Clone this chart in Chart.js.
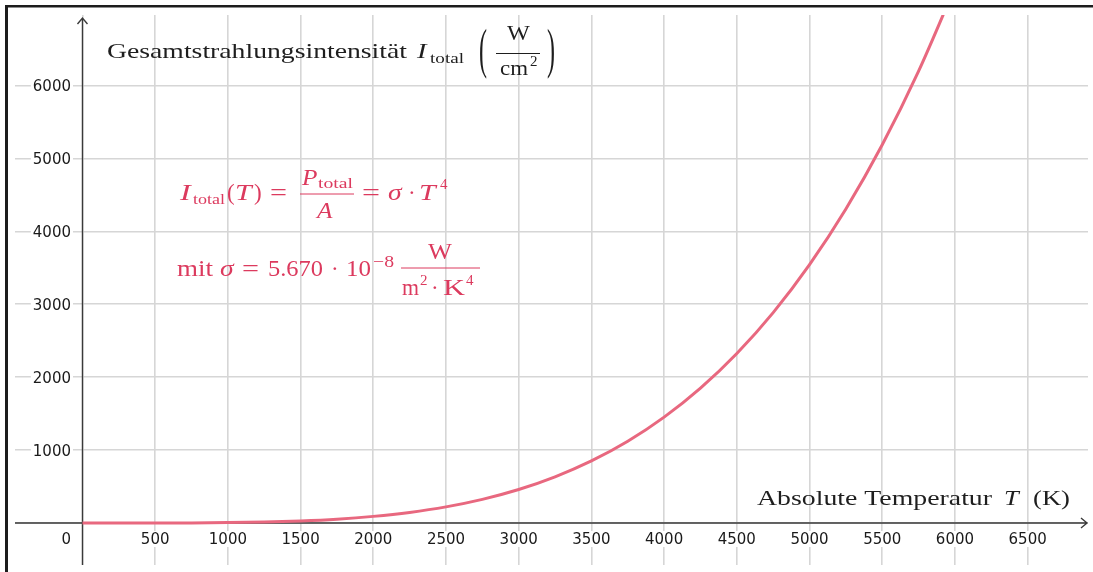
<!DOCTYPE html>
<html><head><meta charset="utf-8">
<script src="https://cdn.jsdelivr.net/npm/chart.js@4.4.1/dist/chart.umd.min.js"></script>
<style>html,body{margin:0;padding:0;background:#fff;overflow:hidden}canvas{display:block}</style>
</head><body>
<canvas id="c" width="1093" height="572"></canvas>
<script>
// ---- data ----
const temperatures = [0,250,500,750,1000,1250,1500,1750,2000,2250,2500,2750,3000,3250,3500,3750,4000,4250,4500,4750,5000,5250,5500,5750,6000];
const intensities  = [0,0,0.4,1.8,5.7,14,29,53,91,145,221,324,459,633,851,1121,1452,1850,2325,2886,3544,4307,5188,6198,7348];
const xTickValues = [0,500,1000,1500,2000,2500,3000,3500,4000,4500,5000,5500,6000,6500];
const yTickValues = [0,1000,2000,3000,4000,5000,6000];
const xTitle = ['Absolute Temperatur', 'T', '(K)'];
const yTitle = ['Gesamtstrahlungsintensität', 'I', 'total', 'W', 'cm', '2'];

const SERIF = '"Liberation Serif", "Times New Roman", serif';
const SANS = '"DejaVu Sans", sans-serif';
const RED = '#dc3a5e';
const INK = '#1e1e1e';

function put(ctx, s, x, y, size, opt = {}) {
  ctx.save();
  ctx.font = (opt.italic ? 'italic ' : '') + size + 'px ' + (opt.family || SERIF);
  ctx.fillStyle = opt.color || INK;
  ctx.textBaseline = 'alphabetic';
  ctx.textAlign = opt.align || 'left';
  let sx = opt.sx || 1;
  if (opt.width) sx = opt.width / ctx.measureText(s).width;
  ctx.translate(x, y);
  ctx.scale(sx, opt.sy || 1);
  ctx.fillText(s, 0, 0);
  ctx.restore();
}
function hline(ctx, x1, x2, y, color, lw) {
  ctx.save(); ctx.strokeStyle = color; ctx.lineWidth = lw || 1;
  ctx.beginPath(); ctx.moveTo(x1, y); ctx.lineTo(x2, y); ctx.stroke(); ctx.restore();
}

const decor = {
  id: 'decor',
  beforeDraw(chart) {
    const ctx = chart.ctx;
    ctx.save(); ctx.fillStyle = '#fff'; ctx.fillRect(0, 0, chart.width, chart.height); ctx.restore();
  },
  beforeDatasetsDraw(chart) {
    const ctx = chart.ctx, xs = chart.scales.x, ys = chart.scales.y, a = chart.chartArea;
    const x0 = xs.getPixelForValue(0), y0 = ys.getPixelForValue(0);
    ctx.save();
    ctx.font = '15px ' + SANS;
    ctx.textBaseline = 'alphabetic';
    yTickValues.forEach(v => {
      if (v === 0) return;
      const py = ys.getPixelForValue(v);
      const s = String(v), w = ctx.measureText(s).width;
      ctx.fillStyle = '#fff'; ctx.fillRect(71 - w - 2, py - 8, w + 4, 16);
      ctx.fillStyle = '#1a1a1a'; ctx.textAlign = 'right'; ctx.fillText(s, 71, py + 5.5);
    });
    xTickValues.forEach(v => {
      const s = String(v), w = ctx.measureText(s).width;
      if (v === 0) {
        ctx.fillStyle = '#fff'; ctx.fillRect(71 - w - 2, y0 + 8, w + 4, 16);
        ctx.fillStyle = '#1a1a1a'; ctx.textAlign = 'right'; ctx.fillText(s, 71, y0 + 21);
        return;
      }
      const px = xs.getPixelForValue(v);
      ctx.fillStyle = '#fff'; ctx.fillRect(px - w / 2 - 2, y0 + 8, w + 4, 16);
      ctx.fillStyle = '#1a1a1a'; ctx.textAlign = 'center'; ctx.fillText(s, px, y0 + 21);
    });
    ctx.strokeStyle = '#3a3a3a'; ctx.lineWidth = 1.4;
    ctx.beginPath();
    ctx.moveTo(a.left, y0); ctx.lineTo(a.right - 1, y0);
    ctx.moveTo(a.right - 7, y0 - 5); ctx.lineTo(a.right - 1, y0); ctx.lineTo(a.right - 7, y0 + 5);
    ctx.moveTo(x0, a.bottom); ctx.lineTo(x0, a.top + 3);
    ctx.moveTo(x0 - 5, a.top + 9); ctx.lineTo(x0, a.top + 3); ctx.lineTo(x0 + 5, a.top + 9);
    ctx.stroke();
    ctx.restore();
  },
  afterDraw(chart) {
    const ctx = chart.ctx;
    // y title
    put(ctx, yTitle[0], 107, 58, 22, { width: 300 });
    put(ctx, yTitle[1], 417, 58, 22, { italic: true, sx: 1.3 });
    put(ctx, yTitle[2], 430, 63, 15, { width: 34 });
    put(ctx, '(', 479, 67, 24, { sy: 2.3 });
    put(ctx, yTitle[3], 518.5, 40, 22, { align: 'center', sx: 1.1 });
    hline(ctx, 496, 540, 53.5, INK, 1);
    put(ctx, yTitle[4], 500, 75, 22, { width: 28 });
    put(ctx, yTitle[5], 530, 66, 15);
    put(ctx, ')', 547, 67, 24, { sy: 2.3 });
    // x title
    put(ctx, xTitle[0], 757, 505, 22, { width: 235 });
    put(ctx, xTitle[1], 1004, 505, 22, { italic: true, sx: 1.2 });
    put(ctx, xTitle[2], 1033, 505, 22, { width: 37 });
    // red formulas
    const r = { color: RED };
    put(ctx, 'I', 180, 200, 23, { ...r, italic: true, sx: 1.4 });
    put(ctx, 'total', 193, 204, 15, { ...r, width: 32 });
    put(ctx, '(', 227, 200, 23, r);
    put(ctx, 'T', 235, 200, 23, { ...r, italic: true, sx: 1.3 });
    put(ctx, ')', 254, 200, 23, r);
    put(ctx, '=', 270, 200, 23, { ...r, width: 17 });
    put(ctx, 'P', 302, 185, 23, { ...r, italic: true, sx: 1.1 });
    put(ctx, 'total', 318, 188, 15, { ...r, width: 35 });
    hline(ctx, 300, 354, 194, RED, 1);
    put(ctx, 'A', 317, 218, 23, { ...r, italic: true, sx: 1.1 });
    put(ctx, '=', 362, 200, 23, { ...r, width: 18 });
    put(ctx, 'σ', 388, 200, 23, { ...r, italic: true, sx: 1.2 });
    put(ctx, '·', 408, 200, 23, r);
    put(ctx, 'T', 419, 200, 23, { ...r, italic: true, sx: 1.3 });
    put(ctx, '4', 440, 189, 15, r);

    put(ctx, 'mit', 177, 276, 23, { ...r, width: 36 });
    put(ctx, 'σ', 220, 276, 23, { ...r, italic: true, sx: 1.2 });
    put(ctx, '=', 242, 276, 23, { ...r, width: 17 });
    put(ctx, '5.670', 268, 276, 23, { ...r, width: 55 });
    put(ctx, '·', 331, 276, 23, r);
    put(ctx, '10', 346, 276, 23, { ...r, width: 25 });
    put(ctx, '−8', 373, 267, 16, { ...r, width: 21 });
    put(ctx, 'W', 440, 259, 23, { ...r, align: 'center', sx: 1.1 });
    hline(ctx, 401, 480, 268, RED, 1);
    put(ctx, 'm', 402, 295, 23, { ...r, width: 17 });
    put(ctx, '2', 420, 285, 15, r);
    put(ctx, '·', 431, 295, 23, r);
    put(ctx, 'K', 443, 295, 23, { ...r, width: 22 });
    put(ctx, '4', 466, 285, 15, r);
    // frame
    ctx.save(); ctx.fillStyle = '#1c1c1c';
    ctx.fillRect(5, 5, chart.width - 5, 2.5);
    ctx.fillRect(5, 5, 3, chart.height - 5);
    ctx.restore();
  }
};

const points = temperatures.map((t, i) => ({ x: t, y: intensities[i] }));

new Chart(document.getElementById('c'), {
  type: 'line',
  data: { datasets: [{
    data: points,
    borderColor: '#e8687f',
    borderWidth: 3,
    pointRadius: 0,
    cubicInterpolationMode: 'monotone',
    fill: false
  }]},
  options: {
    responsive: false,
    animation: false,
    devicePixelRatio: 1,
    layout: { padding: { left: 15, top: 15, right: 5, bottom: 7 } },
    plugins: { legend: { display: false }, tooltip: { enabled: false } },
    scales: {
      x: {
        type: 'linear', min: -464, max: 6915,
        afterBuildTicks: ax => { ax.ticks = xTickValues.map(v => ({ value: v })); },
        grid: { color: '#d6d6d6', lineWidth: 1.6, drawTicks: false },
        border: { display: false },
        ticks: { display: false }
      },
      y: {
        type: 'linear', min: -576, max: 6968,
        afterBuildTicks: ax => { ax.ticks = yTickValues.map(v => ({ value: v })); },
        grid: { color: '#d6d6d6', lineWidth: 1.6, drawTicks: false },
        border: { display: false },
        ticks: { display: false }
      }
    }
  },
  plugins: [decor]
});
</script>
</body></html>
